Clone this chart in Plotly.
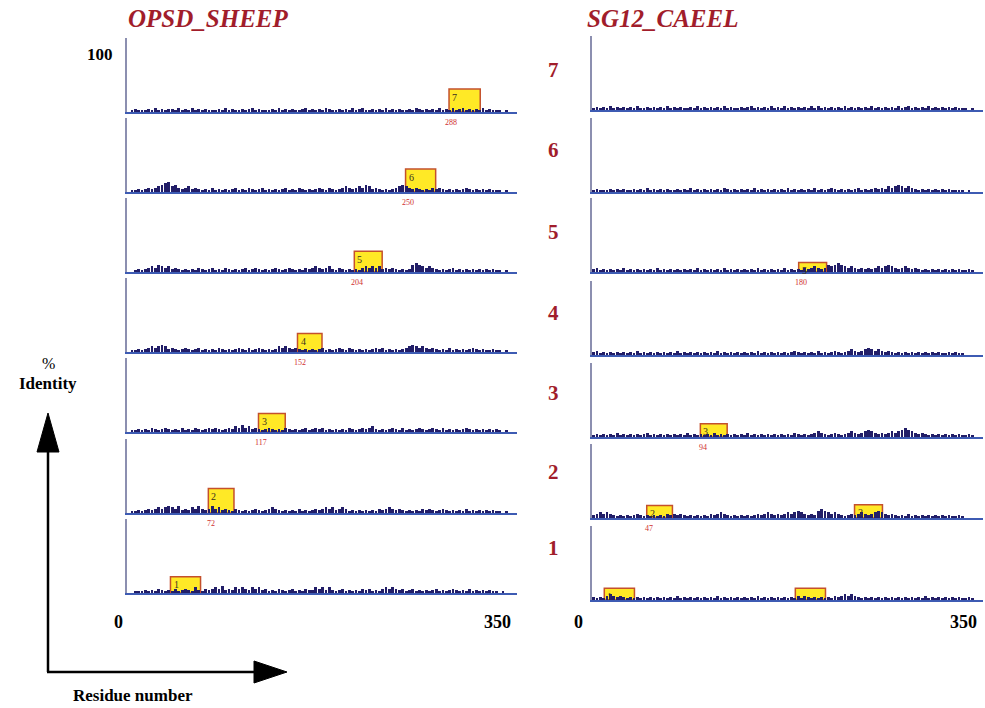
import plotly.graph_objects as go

W, H = 985, 708

# ---------------- data (one value per 3 residues, digit = 2 % identity) ----
L1 = "0011121213212131232142132343523243432434231213212312132243424212312121323121343432312312121231212321213121212110100"
L2 = "0112123234345435232435323534232132121232123432121213121232343423431212121213234323212121323212321212131212121211010"
L3 = "0112121321232121312132123232123243534232123212132121231232312121213212323421212321312123212321312121232121212121010"
L4 = "0112123434542321232123121213212123213123212124343232121212312123213212121232312121234543432321213121212321211211010"
L5 = "0012123435434232121213212312132121231232121232123212132343234213212121343434232321212565434321212312121212121211010"
L6 = "0112123234567453234232121312121231213212312121231213212123213212343234354232121234543232121323212121232121212111010"
L7 = "0121112131212213121312121112131211212312111213121211231212132112121312311212131212112132121213121312312121312111010"

R1 = "2121343232121212121212121312121212121312121212121312121212121313212121213234343212121212121212121213121212121211210"
R2 = "2343432121212321212121323232121212132343212121212323432323434543232565434321232343234543232121312121212121211210"
R3 = "1212121312121212312121212121312121213121212121312121212121213212123432123212343234543232343456543232121212121211210"
R4 = "2312121212121312121212121312121212121312121212121312121212123212121312123212343234543432321212121212121211212110"
R5 = "2312121213121212121312121212121312121213121212121312121213121213234323545654343232323434543234323212121212121211210"
R6 = "1211121212112121312121211212131212121213212121213121212121312121213121232121212312123232434543432121212121211110100"
R7 = "1212131212121311212121312121121312121213121121231212131213121212131312121213121212131212121312312121312121212111010"

LEFT_SERIES = [L1, L2, L3, L4, L5, L6, L7]
RIGHT_SERIES = [R1, R2, R3, R4, R5, R6, R7]

# motif boxes: (row, start residue, width in residues, height %, digit, start label)
LEFT_BOXES = [
    (1, 39, 27, 22, "1", ""),
    (2, 73, 23, 33, "2", "72"),
    (3, 118, 24, 25, "3", "117"),
    (4, 153, 22, 25, "4", "152"),
    (5, 204, 25, 28, "5", "204"),
    (6, 250, 27, 31, "6", "250"),
    (7, 289, 28, 31, "7", "288"),
]
RIGHT_BOXES = [
    (1, 11, 27, 16, "1", ""),
    (1, 182, 27, 16, "", ""),
    (2, 49, 23, 17, "2", "47"),
    (2, 235, 25, 18, "2", ""),
    (3, 97, 24, 18, "3", "94"),
    (5, 185, 25, 13, "5", "180"),
]

ROW_NUMBERS = ["1", "2", "3", "4", "5", "6", "7"]
TITLES = ["OPSD_SHEEP", "SG12_CAEEL"]
X_TICKS = ["0", "350"]

# ---------------- layout geometry (pixels) ----------------
LEFT_X = (127, 517)
RIGHT_X = (592, 983)
LEFT_BASE = [593, 513, 432, 352, 272, 192, 112]
RIGHT_BASE = [600, 518, 437, 355, 272, 192, 110]
PANEL_H = 74

def px(x):
    return x / W

def py(y):
    return 1 - y / H

BAR_COLOR = "#221e68"
BASE_COLOR = "#3d5bb3"
YLINE_COLOR = "#8c8fb0"
RED = "#a11d2b"
SERIF = "Liberation Serif, Times New Roman, serif"

fig = go.Figure()
layout = dict(
    width=W, height=H, margin=dict(l=0, r=0, t=0, b=0),
    plot_bgcolor="white", paper_bgcolor="white", showlegend=False,
    bargap=0,
)
shapes = []
annotations = []

def add_panel(idx, series, xdom, base):
    xs = [i * 3 + 1.5 for i in range(len(series))]
    ys = [int(c) * 2 for c in series]
    xa = "x" if idx == 1 else f"x{idx}"
    ya = "y" if idx == 1 else f"y{idx}"
    fig.add_trace(go.Bar(x=xs, y=ys, width=2.5, marker=dict(color=BAR_COLOR, line=dict(width=0)),
                         xaxis=xa, yaxis=ya, hoverinfo="skip"))
    key = "" if idx == 1 else str(idx)
    layout["xaxis" + key] = dict(domain=[px(xdom[0]), px(xdom[1])], range=[0, 350], anchor=ya,
                                 showline=True, linecolor=BASE_COLOR, linewidth=1.5,
                                 showgrid=False, zeroline=False, showticklabels=False, ticks="")
    layout["yaxis" + key] = dict(domain=[py(base), py(base - PANEL_H)], range=[0, 100], anchor=xa,
                                 showline=True, linecolor=YLINE_COLOR, linewidth=1.5,
                                 showgrid=False, zeroline=False, showticklabels=False, ticks="")
    return xa, ya

axes_map = {}
for r in range(7):
    axes_map[("L", r + 1)] = add_panel(r + 1, LEFT_SERIES[r], LEFT_X, LEFT_BASE[r])
    axes_map[("R", r + 1)] = add_panel(r + 8, RIGHT_SERIES[r], RIGHT_X, RIGHT_BASE[r])

def add_boxes(col, boxes):
    for (row, start, width, height, digit, lab) in boxes:
        xa, ya = axes_map[(col, row)]
        shapes.append(dict(type="rect", xref=xa, yref=ya, x0=start, x1=start + width, y0=0, y1=height,
                           fillcolor="rgba(255,229,0,0.85)", line=dict(color="#c4502c", width=1.5),
                           layer="below"))
        if digit:
            annotations.append(dict(xref=xa, yref=ya, x=start + 1, y=height - 1, text=digit,
                                    showarrow=False, xanchor="left", yanchor="top",
                                    font=dict(family=SERIF, size=10, color="#3a3020")))
        if lab:
            annotations.append(dict(xref=xa, yref=ya, x=start + 2, y=0, yshift=-4, text=lab,
                                    showarrow=False, xanchor="center", yanchor="top",
                                    font=dict(family=SERIF, size=8, color="#d03030")))

add_boxes("L", LEFT_BOXES)
add_boxes("R", RIGHT_BOXES)

def text(x, y, s, size, color="black", italic=False, bold=True, xanchor="center"):
    t = f"<b>{s}</b>" if bold else s
    if italic:
        t = f"<i>{t}</i>"
    annotations.append(dict(xref="paper", yref="paper", x=px(x), y=py(y), text=t, showarrow=False,
                            xanchor=xanchor, yanchor="middle",
                            font=dict(family=SERIF, size=size, color=color)))

text(208, 18, TITLES[0], 25, RED, italic=True)
text(662, 18, TITLES[1], 25, RED, italic=True)
ROW_Y = [548, 472, 393, 313, 232, 150, 70]
for r in range(7):
    text(553, ROW_Y[r], ROW_NUMBERS[r], 21, RED)
text(100, 55, "100", 17)
text(118, 622, X_TICKS[0], 18)
text(497, 622, X_TICKS[1], 18)
text(578, 622, X_TICKS[0], 18)
text(963, 622, X_TICKS[1], 18)
text(48, 363, "%", 16, bold=False)
text(48, 383, "Identity", 17)
text(133, 695, "Residue number", 17)

# arrows
shapes.append(dict(type="line", xref="paper", yref="paper", x0=px(48), y0=py(672), x1=px(48), y1=py(450),
                   line=dict(color="black", width=2.5)))
shapes.append(dict(type="line", xref="paper", yref="paper", x0=px(47), y0=py(672), x1=px(258), y1=py(672),
                   line=dict(color="black", width=2.5)))
shapes.append(dict(type="path", xref="paper", yref="paper",
                   path=f"M {px(37)} {py(452)} L {px(48)} {py(413)} L {px(59)} {py(452)} Z",
                   fillcolor="black", line=dict(color="black", width=1)))
shapes.append(dict(type="path", xref="paper", yref="paper",
                   path=f"M {px(254)} {py(661)} L {px(287)} {py(672)} L {px(254)} {py(683)} Z",
                   fillcolor="black", line=dict(color="black", width=1)))

layout["shapes"] = shapes
layout["annotations"] = annotations
fig.update_layout(**layout)
fig.write_html("out.html", config={"displayModeBar": False},
               post_script="document.body.style.margin='0';document.body.style.overflow='hidden';")
